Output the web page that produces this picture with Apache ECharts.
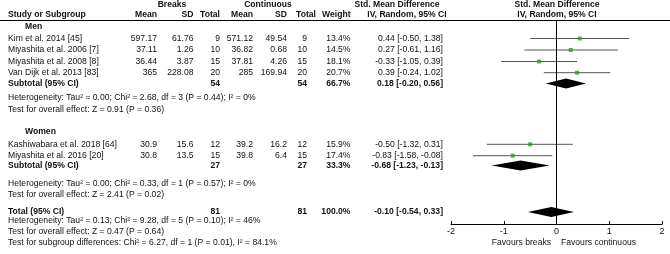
<!DOCTYPE html>
<html>
<head>
<meta charset="utf-8">
<script src="https://cdn.jsdelivr.net/npm/echarts@6/dist/echarts.min.js"></script>
<style>
  html, body { margin: 0; padding: 0; background: #fff; }
  #chart { width: 670px; height: 254px; }
</style>
</head>
<body>
<div id="chart"></div>
<script>
// study level data
const studies = ['Kim et al. 2014 [45]', 'Miyashita et al. 2006 [7]', 'Miyashita et al. 2008 [8]',
  'Van Dijk et al. 2013 [83]', 'Kashiwabara et al. 2018 [64]', 'Miyashita et al. 2016 [20]']
const breaksMean = [597.17, 37.11, 36.44, 365, 30.9, 30.8]
const breaksSD = [61.76, 1.26, 3.87, 228.08, 15.6, 13.5]
const breaksN = [9, 10, 15, 20, 12, 15]
const contMean = [571.12, 36.82, 37.81, 285, 39.2, 39.8]
const contSD = [49.54, 0.68, 4.26, 169.94, 16.2, 6.4]
const contN = [9, 10, 15, 20, 12, 15]
const weight = [13.4, 14.5, 18.1, 20.7, 15.9, 17.4]
const smd = [0.44, 0.27, -0.33, 0.39, -0.50, -0.83]
const ciLow = [-0.50, -0.61, -1.05, -0.24, -1.32, -1.58]
const ciHigh = [1.38, 1.16, 0.39, 1.02, 0.31, -0.08]

// subgroups
const groups = ['Men', 'Women']
const subBreaksN = [54, 27]
const subContN = [54, 27]
const subWeight = [66.7, 33.3]
const subSmd = [0.18, -0.68]
const subLow = [-0.20, -1.23]
const subHigh = [0.56, -0.13]
const subHet = ['Heterogeneity: Tau² = 0.00; Chi² = 2.68, df = 3 (P = 0.44); I² = 0%',
  'Heterogeneity: Tau² = 0.00; Chi² = 0.33, df = 1 (P = 0.57); I² = 0%']
const subTest = ['Test for overall effect: Z = 0.91 (P = 0.36)', 'Test for overall effect: Z = 2.41 (P = 0.02)']

// overall
const totalBreaksN = 81
const totalContN = 81
const totalWeight = 100.0
const totalSmd = -0.10
const totalLow = -0.54
const totalHigh = 0.33
const totalNotes = ['Heterogeneity: Tau² = 0.13; Chi² = 9.28, df = 5 (P = 0.10); I² = 46%',
  'Test for overall effect: Z = 0.47 (P = 0.64)',
  'Test for subgroup differences: Chi² = 6.27, df = 1 (P = 0.01), I² = 84.1%']

const xTicks = [-2, -1, 0, 1, 2]

// layout (pixel rows / columns)
const studyRow = [38.5, 50, 61.5, 72.7, 144.3, 155.7]
const groupRow = [27, 132]
const subRow = [83.5, 165.5]
const subHetRow = [98, 183.3]
const subTestRow = [110, 195]
const totalRow = 212
const totalNoteRows = [220.5, 232, 243]
const COL = { name: 8, group: 25, bMean: 157, bSD: 193.5, bN: 220, cMean: 253, cSD: 287, cN: 307, w: 350.5, eff: 443 }
const FS = 8.6
const FONT = '"Liberation Sans", Arial, sans-serif'

const fmt2 = v => v.toFixed(2)
const effText = (m, l, h) => fmt2(m) + ' [' + fmt2(l) + ', ' + fmt2(h) + ']'

const graphics = []
function txt(x, y, s, align, bold) {
  graphics.push({
    type: 'text',
    x: x,
    y: y,
    silent: true,
    style: {
      text: String(s),
      align: align || 'left',
      textAlign: align || 'left',
      verticalAlign: 'middle',
      textVerticalAlign: 'middle',
      fill: '#111',
      font: (bold ? 'bold ' : '') + FS + 'px ' + FONT
    }
  })
}

// header
txt(172, 4.5, 'Breaks', 'center', true)
txt(268, 4.5, 'Continuous', 'center', true)
txt(397, 4.5, 'Std. Mean Difference', 'center', true)
txt(557, 4.5, 'Std. Mean Difference', 'center', true)
txt(COL.name, 15, 'Study or Subgroup', 'left', true)
txt(COL.bMean, 15, 'Mean', 'right', true)
txt(COL.bSD, 15, 'SD', 'right', true)
txt(COL.bN, 15, 'Total', 'right', true)
txt(COL.cMean, 15, 'Mean', 'right', true)
txt(COL.cSD, 15, 'SD', 'right', true)
txt(316, 15, 'Total', 'right', true)
txt(COL.w, 15, 'Weight', 'right', true)
txt(407, 15, 'IV, Random, 95% CI', 'center', true)
txt(557, 15, 'IV, Random, 95% CI', 'center', true)
graphics.push({
  type: 'line', silent: true,
  shape: { x1: 0, y1: 20.5, x2: 670, y2: 20.5 },
  style: { stroke: '#000', lineWidth: 1 }
})

// studies
for (let i = 0; i < studies.length; i++) {
  const y = studyRow[i]
  txt(COL.name, y, studies[i])
  txt(COL.bMean, y, breaksMean[i], 'right')
  txt(COL.bSD, y, breaksSD[i], 'right')
  txt(COL.bN, y, breaksN[i], 'right')
  txt(COL.cMean, y, contMean[i], 'right')
  txt(COL.cSD, y, contSD[i], 'right')
  txt(COL.cN, y, contN[i], 'right')
  txt(COL.w, y, weight[i].toFixed(1) + '%', 'right')
  txt(COL.eff, y, effText(smd[i], ciLow[i], ciHigh[i]), 'right')
}

// subgroups
for (let g = 0; g < groups.length; g++) {
  txt(COL.group, groupRow[g], groups[g], 'left', true)
  const y = subRow[g]
  txt(COL.name, y, 'Subtotal (95% CI)', 'left', true)
  txt(COL.bN, y, subBreaksN[g], 'right', true)
  txt(COL.cN, y, subContN[g], 'right', true)
  txt(COL.w, y, subWeight[g].toFixed(1) + '%', 'right', true)
  txt(COL.eff, y, effText(subSmd[g], subLow[g], subHigh[g]), 'right', true)
  txt(COL.name, subHetRow[g], subHet[g])
  txt(COL.name, subTestRow[g], subTest[g])
}

// total
txt(COL.name, totalRow, 'Total (95% CI)', 'left', true)
txt(COL.bN, totalRow, totalBreaksN, 'right', true)
txt(COL.cN, totalRow, totalContN, 'right', true)
txt(COL.w, totalRow, totalWeight.toFixed(1) + '%', 'right', true)
txt(COL.eff, totalRow, effText(totalSmd, totalLow, totalHigh), 'right', true)
for (let k = 0; k < totalNotes.length; k++) {
  txt(COL.name, totalNoteRows[k], totalNotes[k])
}

// favours labels
txt(551, 243, 'Favours breaks', 'right')
txt(561, 243, 'Favours continuous', 'left')

const ciData = studies.map((s, i) => [ciLow[i], ciHigh[i], studyRow[i]])
const pointData = studies.map((s, i) => [smd[i], studyRow[i]])
const diamondData = groups.map((g, i) => [subLow[i], subSmd[i], subHigh[i], subRow[i]])
diamondData.push([totalLow, totalSmd, totalHigh, totalRow])

const chart = echarts.init(document.getElementById('chart'), null, { renderer: 'canvas' })
chart.setOption({
  animation: false,
  backgroundColor: '#fff',
  textStyle: { fontFamily: FONT },
  graphic: { elements: graphics },
  grid: { left: 451, right: 8, top: 20.5, bottom: 30, containLabel: false },
  xAxis: {
    type: 'value',
    min: xTicks[0],
    max: xTicks[xTicks.length - 1],
    interval: 1,
    splitLine: { show: false },
    axisLine: { show: true, lineStyle: { color: '#000', width: 1 } },
    axisTick: { show: true, inside: true, length: 3, lineStyle: { color: '#000' } },
    axisLabel: { color: '#111', fontSize: 9, margin: 3, fontFamily: FONT }
  },
  yAxis: {
    type: 'value',
    min: 20.5,
    max: 224,
    inverse: true,
    show: false
  },
  series: [
    {
      type: 'custom',
      name: 'ci',
      data: ciData,
      encode: { x: [0, 1], y: 2 },
      renderItem(params, api) {
        const a = api.coord([api.value(0), api.value(2)])
        const b = api.coord([api.value(1), api.value(2)])
        return {
          type: 'line',
          shape: { x1: a[0], y1: a[1], x2: b[0], y2: b[1] },
          style: { stroke: '#555', lineWidth: 1 }
        }
      },
      markLine: {
        silent: true,
        symbol: 'none',
        label: { show: false },
        lineStyle: { color: '#000', width: 1, type: 'solid' },
        data: [{ xAxis: 0 }]
      },
      z: 2
    },
    {
      type: 'scatter',
      name: 'smd',
      data: pointData,
      symbol: 'rect',
      symbolSize: 4,
      itemStyle: { color: '#23a023' },
      z: 3
    },
    {
      type: 'custom',
      name: 'pooled',
      data: diamondData,
      encode: { x: [0, 1, 2], y: 3 },
      renderItem(params, api) {
        const y = api.value(3)
        const l = api.coord([api.value(0), y])
        const m = api.coord([api.value(1), y])
        const r = api.coord([api.value(2), y])
        return {
          type: 'polygon',
          shape: { points: [[l[0], l[1]], [m[0], m[1] - 5], [r[0], r[1]], [m[0], m[1] + 5]] },
          style: { fill: '#000' }
        }
      },
      z: 4
    }
  ]
})
</script>
</body>
</html>
